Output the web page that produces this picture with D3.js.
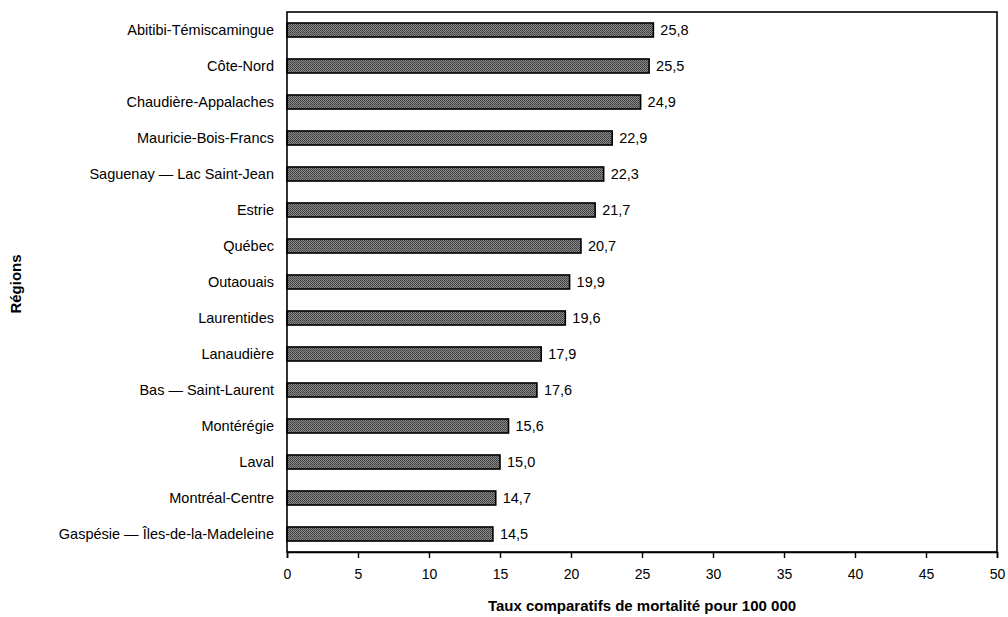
<!DOCTYPE html>
<html>
<head>
<meta charset="utf-8">
<script src="https://cdn.jsdelivr.net/npm/d3@7"></script>
<style>
  body { margin: 0; background: #fff; }
  svg { display: block; font-family: "Liberation Sans", Arial, sans-serif; }
</style>
</head>
<body>
<svg id="chart" width="1008" height="617"></svg>
<script>
// Taux comparatifs de mortalité pour 100 000, par région
const regions = [
  "Abitibi-Témiscamingue", "Côte-Nord", "Chaudière-Appalaches", "Mauricie-Bois-Francs",
  "Saguenay — Lac Saint-Jean", "Estrie", "Québec", "Outaouais", "Laurentides",
  "Lanaudière", "Bas — Saint-Laurent", "Montérégie", "Laval", "Montréal-Centre",
  "Gaspésie — Îles-de-la-Madeleine"
];
const taux = [25.8, 25.5, 24.9, 22.9, 22.3, 21.7, 20.7, 19.9, 19.6, 17.9, 17.6, 15.6, 15.0, 14.7, 14.5];
const xTicks = [0, 5, 10, 15, 20, 25, 30, 35, 40, 45, 50];

const svg = d3.select("#chart");
const plot = { left: 287, right: 997, top: 12, bottom: 552 };

const x = d3.scaleLinear().domain([0, 50]).range([plot.left, plot.right]);
const y = d3.scaleBand().domain(regions).range([plot.top, plot.bottom]).paddingInner(0.61).paddingOuter(0.305);

// stippled grey fill for the bars
const defs = svg.append("defs");
const pat = defs.append("pattern").attr("id", "stipple")
  .attr("width", 2).attr("height", 2).attr("patternUnits", "userSpaceOnUse");
pat.append("rect").attr("width", 2).attr("height", 2).attr("fill", "#8a8a8a");
pat.append("rect").attr("width", 1).attr("height", 1).attr("fill", "#3a3a3a");
pat.append("rect").attr("x", 1).attr("y", 1).attr("width", 1).attr("height", 1).attr("fill", "#4a4a4a");

// bars
svg.append("g").selectAll("rect").data(regions).join("rect")
  .attr("x", x(0))
  .attr("y", d => y(d))
  .attr("width", (d, i) => x(taux[i]) - x(0))
  .attr("height", y.bandwidth())
  .attr("fill", "url(#stipple)")
  .attr("stroke", "#000")
  .attr("stroke-width", 1.6);

// value labels
svg.append("g").selectAll("text").data(regions).join("text")
  .attr("x", (d, i) => x(taux[i]) + 7)
  .attr("y", d => y(d) + y.bandwidth() / 2)
  .attr("dy", "0.35em")
  .attr("font-size", 14.5)
  .attr("fill", "#000")
  .text((d, i) => d3.format(".1f")(taux[i]).replace(".", ","));

// category labels
svg.append("g").selectAll("text").data(regions).join("text")
  .attr("x", plot.left - 13)
  .attr("y", d => y(d) + y.bandwidth() / 2)
  .attr("dy", "0.35em")
  .attr("text-anchor", "end")
  .attr("font-size", 14.5)
  .attr("fill", "#000")
  .text(d => d);

// plot frame
svg.append("rect")
  .attr("x", plot.left).attr("y", plot.top)
  .attr("width", plot.right - plot.left).attr("height", plot.bottom - plot.top)
  .attr("fill", "none").attr("stroke", "#000").attr("stroke-width", 1.6);

// x axis
const xAxis = d3.axisBottom(x).tickValues(xTicks).tickSize(6).tickPadding(11).tickFormat(d3.format("d"));
const gx = svg.append("g").attr("transform", `translate(0,${plot.bottom})`).call(xAxis);
gx.select(".domain").attr("stroke", "#000").attr("stroke-width", 1.6);
gx.selectAll(".tick line").attr("stroke", "#000").attr("stroke-width", 1.4);
gx.selectAll(".tick text").attr("font-size", 14).attr("fill", "#000")
  .attr("font-family", "'Liberation Sans', Arial, sans-serif");

// axis titles
svg.append("text")
  .attr("x", 642).attr("y", 611)
  .attr("text-anchor", "middle")
  .attr("font-size", 15).attr("font-weight", "bold")
  .text("Taux comparatifs de mortalité pour 100 000");

svg.append("text")
  .attr("transform", "translate(21,284) rotate(-90)")
  .attr("text-anchor", "middle")
  .attr("font-size", 15).attr("font-weight", "bold")
  .text("Régions");
</script>
</body>
</html>
